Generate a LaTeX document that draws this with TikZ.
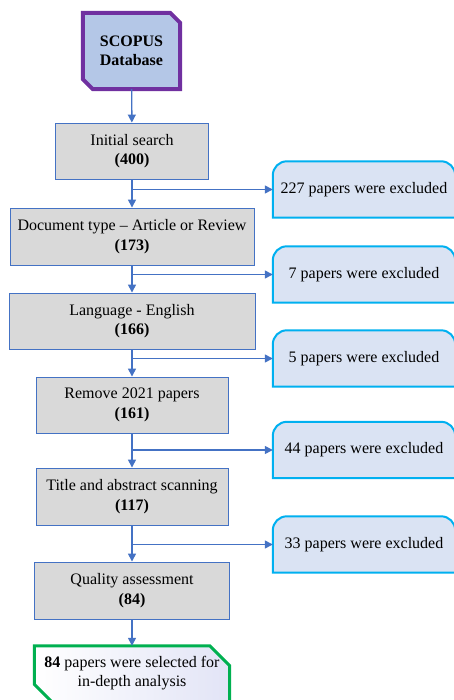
\documentclass[tikz,border=0pt]{standalone}
\usepackage{fontspec}
\setmainfont{Liberation Serif}
\usetikzlibrary{arrows.meta}
\definecolor{arrblue}{RGB}{68,114,196}
\definecolor{boxgray}{RGB}{217,217,217}
\definecolor{exfill}{RGB}{218,227,243}
\definecolor{exline}{RGB}{0,176,240}
\definecolor{scfill}{RGB}{180,199,231}
\definecolor{scline}{RGB}{112,48,160}
\definecolor{fingreen}{RGB}{0,176,80}
\definecolor{finfill}{RGB}{226,228,246}
\tikzset{
  every node/.style={font=\fontsize{16}{19.5}\selectfont, align=center, inner sep=0pt},
  graybox/.style={draw=arrblue, fill=boxgray, line width=0.9pt},
  exnode/.style={minimum width=182pt, minimum height=56pt},
  exshape/.style={draw=exline, fill=exfill, line width=2pt},
  arr/.style={draw=arrblue, line width=1.4pt, -{Triangle[length=8pt,width=8pt]}},
}
\begin{document}
\begin{tikzpicture}[x=1pt,y=-1pt]
\useasboundingbox (0,0) rectangle (454,700);

% SCOPUS database
\node[minimum width=97pt, minimum height=76pt] (scopus) at (131.5,51) {};
\path[fill=scfill, draw=scline, line width=4pt, line join=miter]
  (scopus.north west) -- ([shift={(-10,0)}]scopus.north east) -- ([shift={(0,10)}]scopus.north east)
  -- (scopus.south east) -- ([shift={(10,0)}]scopus.south west) -- ([shift={(0,-10)}]scopus.south west) -- cycle;
\node[font=\fontsize{16}{19.5}\selectfont\bfseries] (scopustext) at (scopus.center) {SCOPUS\\Database};

% main boxes
\node[graybox, minimum width=153pt, minimum height=56pt] (init) at (132,151) {Initial search\\\textbf{(400)}};
\node[graybox, minimum width=244pt, minimum height=57pt] (doc) at (132,236.5) {Document type -- Article or Review\\\textbf{(173)}};
\node[graybox, minimum width=246pt, minimum height=56pt] (lang) at (132,321) {Language - English\\\textbf{(166)}};
\node[graybox, minimum width=192pt, minimum height=56pt] (rem) at (132,405) {Remove 2021 papers\\\textbf{(161)}};
\node[graybox, minimum width=192pt, minimum height=57pt] (title) at (132,496.5) {Title and abstract scanning\\\textbf{(117)}};
\node[graybox, minimum width=195pt, minimum height=57pt] (qual) at (132,590.5) {Quality assessment\\\textbf{(84)}};

% final box
\node[minimum width=195pt, minimum height=58pt] (fin) at (132,675) {};
\shade[left color=white, right color=finfill]
  (fin.north west) -- ([shift={(-20,0)}]fin.north east) -- ([shift={(0,20)}]fin.north east)
  -- (fin.south east) -- ([shift={(20,0)}]fin.south west) -- ([shift={(0,-20)}]fin.south west) -- cycle;
\draw[fingreen, line width=3pt]
  (fin.north west) -- ([shift={(-20,0)}]fin.north east) -- ([shift={(0,20)}]fin.north east)
  -- (fin.south east) -- ([shift={(20,0)}]fin.south west) -- ([shift={(0,-20)}]fin.south west) -- cycle;
\node (fintext) at (132,673) {\textbf{84} papers were selected for\\in-depth analysis};

% excluded boxes
\foreach \n/\y/\t in {ex1/189.5/227, ex2/274.5/7, ex3/358.5/5, ex4/450/44, ex5/544.5/33}{
  \node[exnode] (\n) at (364,\y) {};
  \path[exshape] (\n.south west) -- ([shift={(0,14)}]\n.north west)
    arc[start angle=180, end angle=270, radius=14]
    -- ([shift={(-14,0)}]\n.north east)
    arc[start angle=270, end angle=360, radius=14]
    -- (\n.south east) -- cycle;
  \node (\n text) at (\n.center) {\t\ papers were excluded};
}

% connectors
\draw[arr] (scopus) -- (init);
\draw[arr] (init) -- (doc);
\draw[arr] (doc) -- (lang);
\draw[arr] (lang) -- (rem);
\draw[arr] (rem) -- (title);
\draw[arr] (title) -- (qual);
\draw[arr] (qual) -- (fin);

\draw[arr] (ex1.west -| init.south) -- (ex1.west);
\draw[arr] (ex2.west -| doc.south) -- (ex2.west);
\draw[arr] (ex3.west -| lang.south) -- (ex3.west);
\draw[arr] (ex4.west -| rem.south) -- (ex4.west);
\draw[arr] (ex5.west -| title.south) -- (ex5.west);
\end{tikzpicture}
\end{document}
